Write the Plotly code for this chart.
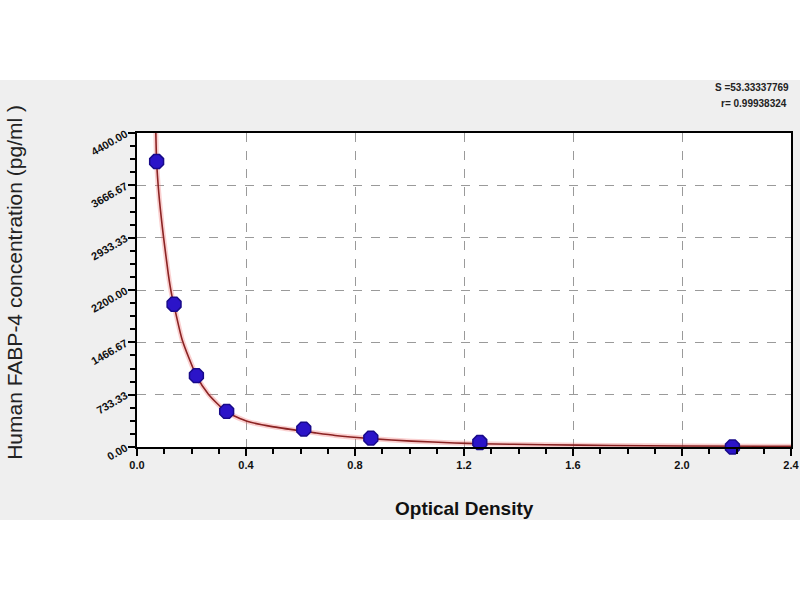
import plotly.graph_objects as go

# Standard points (Optical Density vs concentration)
od_values = [0.072, 0.136, 0.218, 0.329, 0.612, 0.858, 1.258, 2.185]
conc_values = [4000, 2000, 1000, 500, 250, 125, 62.5, 0]

# Fitted curve
curve_od = [0.068, 0.072, 0.080, 0.093, 0.102, 0.115, 0.126, 0.136, 0.166, 0.218, 0.262,
            0.329, 0.404, 0.496, 0.612, 0.654, 0.727, 0.858, 1.008, 1.166, 1.258,
            1.50, 1.74, 2.00, 2.40]
curve_conc = [4600, 4000, 3560, 3080, 2800, 2420, 2160, 1984, 1500, 1000, 740,
              490, 360, 285, 220, 198, 162, 118, 82, 57, 46,
              31, 22, 15, 10]

y_tick_step = 4400 / 6
x_tick_step = 0.4

fit_text = ["S =53.33337769", "r= 0.99938324"]

fig = go.Figure()
# soft glow under curve
fig.add_trace(go.Scatter(x=curve_od, y=curve_conc, mode="lines",
                         line=dict(color="rgba(240,120,120,0.35)", width=5, shape="spline", smoothing=0.6),
                         hoverinfo="skip", showlegend=False))
fig.add_trace(go.Scatter(x=curve_od, y=curve_conc, mode="lines",
                         line=dict(color="#8b2323", width=1.6, shape="spline", smoothing=0.6),
                         showlegend=False))
fig.add_trace(go.Scatter(x=od_values, y=conc_values, mode="markers",
                         marker=dict(symbol="octagon", size=15, color="#2b14c8",
                                     line=dict(color="#180a8a", width=1.5)),
                         cliponaxis=False, showlegend=False))

# target pixel geometry; horizontal compensation factor for the renderer
K = 1.0 / 0.988
W, H = round(800 * K), 600
L = round(135 * K)
R = W - round(790 * K)
T, B = 133, 153
pw, ph = W - L - R, H - T - B

def px_x(px):
    return (px * K - L) / pw

def px_y(py):
    return (H - B - py) / ph

tickfont = dict(size=11, color="#111", family="Liberation Sans, Arial", weight="bold")

fig.update_layout(
    width=W, height=H,
    margin=dict(l=L, r=R, t=T, b=B, pad=0),
    paper_bgcolor="white",
    plot_bgcolor="rgba(0,0,0,0)",
    font=dict(family="Liberation Sans, Arial, sans-serif", color="#222"),
    shapes=[
        dict(type="rect", xref="paper", yref="paper", layer="below",
             x0=px_x(0) - 0.01, x1=px_x(800) + 0.01, y0=px_y(520), y1=px_y(80),
             fillcolor="#efefef", line=dict(width=0)),
        dict(type="rect", xref="paper", yref="paper", layer="below",
             x0=0, x1=1, y0=0, y1=1, fillcolor="white", line=dict(width=0)),
    ],
    xaxis=dict(range=[0, 2.4], tickmode="linear", tick0=0, dtick=x_tick_step,
               tickformat=".1f",
               showline=True, mirror=True, linecolor="black", linewidth=2,
               ticks="outside", ticklen=7, tickwidth=2, tickcolor="black",
               minor=dict(dtick=0.1, tick0=0, ticks="outside", ticklen=5,
                          tickwidth=2, tickcolor="black", showgrid=False),
               showgrid=True, gridcolor="#9a9a9a", griddash="dash", gridwidth=1,
               zeroline=False, tickfont=tickfont),
    yaxis=dict(range=[0, 4400], tickmode="linear", tick0=0, dtick=y_tick_step,
               tickformat=".2f",
               showline=True, mirror=True, linecolor="black", linewidth=2,
               ticks="outside", ticklen=7, tickwidth=2, tickcolor="black",
               minor=dict(dtick=y_tick_step / 4, tick0=0, ticks="outside", ticklen=5,
                          tickwidth=2, tickcolor="black", showgrid=False),
               showgrid=True, gridcolor="#9a9a9a", griddash="dash", gridwidth=1,
               zeroline=False, tickangle=-30, tickfont=dict(tickfont, size=11)),
    annotations=[
        dict(text="Human FABP-4 concentration (pg/ml )", xref="paper", yref="paper",
             x=px_x(12), y=px_y(282), textangle=-90, showarrow=False,
             xanchor="center", yanchor="middle",
             font=dict(size=21, color="#222")),
        dict(text="Optical Density", xref="paper", yref="paper",
             x=px_x(463), y=px_y(508), showarrow=False,
             xanchor="center", yanchor="middle",
             font=dict(size=19, color="#111", weight="bold")),
        dict(text=fit_text[0], xref="paper", yref="paper",
             x=px_x(790), y=px_y(88), showarrow=False,
             xanchor="right", yanchor="middle",
             font=dict(size=10, color="#222", weight="bold")),
        dict(text=fit_text[1], xref="paper", yref="paper",
             x=px_x(788), y=px_y(104), showarrow=False,
             xanchor="right", yanchor="middle",
             font=dict(size=10, color="#222", weight="bold")),
    ],
)

fig.write_html("out.html", config={"displayModeBar": False})

with open("out.html", "r", encoding="utf-8") as fh:
    html = fh.read()
style = "<style>html,body{margin:0;padding:0;overflow:hidden;}</style>"
if "<head>" in html:
    html = html.replace("<head>", "<head>" + style, 1)
else:
    html = style + html
with open("out.html", "w", encoding="utf-8") as fh:
    fh.write(html)
